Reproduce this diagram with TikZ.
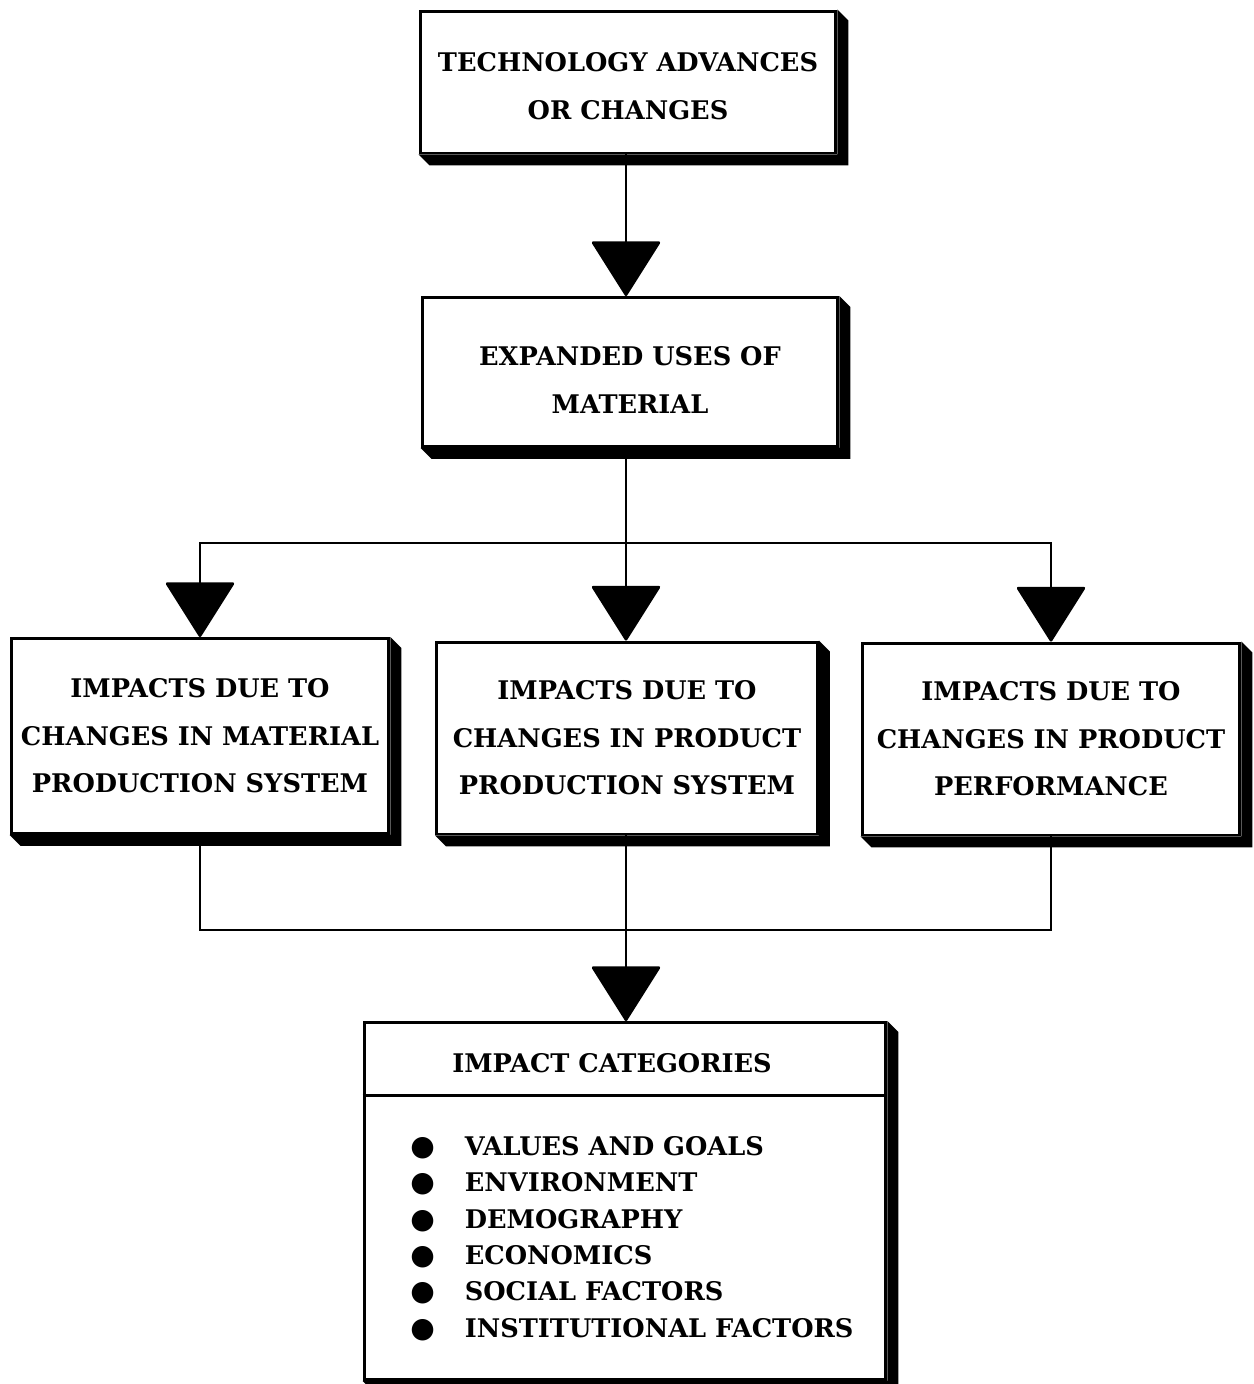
\documentclass[tikz,border=0pt]{standalone}
\usepackage{fontspec}
\setmainfont{DejaVu Serif}
\newfontfamily\symfont{DejaVu Sans}
\usetikzlibrary{arrows.meta}
\newcommand\boxfont{\bfseries\fontsize{14.6}{27}\selectfont}
\newcommand\listfont{\bfseries\fontsize{14.6}{20.4}\selectfont}
\newcommand\bul{{\symfont\fontsize{16}{16}\selectfont ●}}
% thick drop shadow band with bevelled corners, below and right of a box
\newcommand\boxshade[1]{%
  \fill (#1.north east) -- ([shift={(11,11)}]#1.north east)
    -- ([shift={(11,11)}]#1.south east) -- ([shift={(11,11)}]#1.south west)
    -- (#1.south west) -- (#1.south east) -- cycle;}
\begin{document}
\begin{tikzpicture}[x=0.02cm,y=-0.02cm,
  flowbox/.style={draw, line width=1.7pt, fill=white, align=center,
    inner sep=0pt, font=\boxfont},
  boxtext/.style={align=center, inner sep=0pt, font=\boxfont},
  link/.style={line width=1.6pt},
  arr/.style={link, -{Triangle[width=1.4cm,length=1.12cm,round]}},
]
\useasboundingbox[fill=white] (0,0) rectangle (1254,1384);

% boxes
\node[flowbox, minimum width=8.32cm, minimum height=2.84cm] (tech) at (628,82) {};
\node[boxtext] (techtext) at (628,86) {TECHNOLOGY ADVANCES\\OR CHANGES};
\node[flowbox, minimum width=8.32cm, minimum height=2.98cm] (uses) at (630,372) {};
\node[boxtext] (usestext) at (630,380) {EXPANDED USES OF\\MATERIAL};
\node[flowbox, minimum width=7.56cm, minimum height=3.9cm] (matl) at (200,736)
  {IMPACTS DUE TO\\CHANGES IN MATERIAL\\PRODUCTION SYSTEM};
\node[flowbox, minimum width=7.62cm, minimum height=3.84cm] (prod) at (627,738)
  {IMPACTS DUE TO\\CHANGES IN PRODUCT\\PRODUCTION SYSTEM};
\node[flowbox, minimum width=7.56cm, minimum height=3.84cm] (perf) at (1051,739)
  {IMPACTS DUE TO\\CHANGES IN PRODUCT\\PERFORMANCE};
\node[flowbox, minimum width=10.44cm, minimum height=7.14cm] (cats) at (625,1201) {};

\boxshade{tech}
\boxshade{uses}
\boxshade{matl}
\boxshade{prod}
\boxshade{perf}
\boxshade{cats}

% contents of the categories box
\coordinate (divy) at (0,1095);
\draw[line width=1.7pt] (cats.west |- divy) -- (cats.east |- divy);
\node[boxtext] (catstitle) at (612,1063) {IMPACT CATEGORIES};
\node[font=\listfont, anchor=west, inner sep=0pt, align=left] (catlist) at (410,1239)
  {\begin{tabular}{@{}c@{\hspace{0.6cm}}l@{}}
   \bul & VALUES AND GOALS\\[0.01cm]
   \bul & ENVIRONMENT\\[0.01cm]
   \bul & DEMOGRAPHY\\[0.01cm]
   \bul & ECONOMICS\\[0.01cm]
   \bul & SOCIAL FACTORS\\[0.01cm]
   \bul & INSTITUTIONAL FACTORS
   \end{tabular}};

% connectors
\coordinate (split) at (626,543);
\coordinate (merge) at (626,930);
\draw[arr] (tech.south -| split) -- (uses.north -| split);
\draw[link] (uses.south -| split) -- (split);
\draw[arr] (split) -| (matl.north);
\draw[arr] (split) -- (prod.north -| split);
\draw[arr] (split) -| (perf.north);
\draw[link] (matl.south) |- (merge);
\draw[link] (perf.south) |- (merge);
\draw[arr] (prod.south -| merge) -- (cats.north -| merge);
\end{tikzpicture}
\end{document}
